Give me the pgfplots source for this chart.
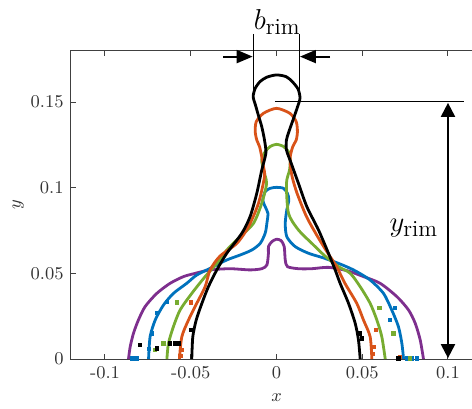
\documentclass[border=0pt]{standalone}
\usepackage{pgfplots}
\pgfplotsset{compat=1.18}
\usetikzlibrary{arrows.meta}
\definecolor{mblue}{rgb}{0,0.447,0.741}
\definecolor{morange}{rgb}{0.85,0.325,0.098}
\definecolor{mgreen}{rgb}{0.466,0.674,0.188}
\definecolor{mpurple}{rgb}{0.494,0.184,0.556}
\definecolor{axgray}{gray}{0.25}
\definecolor{txgray}{gray}{0.2}
\tikzset{
  prof/.style={line width=1.4pt, line join=round, smooth, tension=0.45},
  dots/.style={only marks, mark=square*, mark size=0.8pt},
  dim/.style={line width=0.5pt, draw=black},
}
\begin{document}
\begin{tikzpicture}
\begin{axis}[
  name=ax, scale only axis,
  width=205.8pt, height=154.2pt,
  xmin=-0.12, xmax=0.12, ymin=0, ymax=0.18,
  clip=false,
  axis line style={draw=axgray, line width=0.5pt},
  tick style={draw=axgray, line width=0.5pt},
  tick align=inside, major tick length=2.5pt,
  xtick={-0.1,-0.05,0,0.05,0.1},
  xticklabels={-0.1,-0.05,0,0.05,0.1},
  ytick={0,0.05,0.1,0.15},
  yticklabels={0,0.05,0.1,0.15},
  xtick pos=both, ytick pos=both,
  ticklabel style={font=\fontsize{9}{11}\selectfont, text=txgray},
  xlabel={$x$}, ylabel={$y$},
  label style={font=\fontsize{9}{11}\selectfont, text=txgray},
  xlabel style={yshift=-1pt},
  ylabel style={yshift=-3.5pt},
]
% purple
\addplot[prof, mpurple] coordinates {
(-0.0863,0) (-0.0853,0.0072) (-0.0834,0.0150) (-0.0805,0.0228) (-0.0766,0.0306) (-0.0698,0.0383)
(-0.0620,0.0442) (-0.0542,0.0481) (-0.0474,0.0500) (-0.0387,0.0520) (-0.0270,0.0527) (-0.0154,0.0520)
(-0.0086,0.0527) (-0.0056,0.0549) (-0.0047,0.0617) (-0.0047,0.0656) (-0.0027,0.0685) (0,0.0699)
(0.0027,0.0691) (0.0045,0.0656) (0.0051,0.0578) (0.0064,0.0539) (0.0128,0.0527) (0.0206,0.0527)
(0.0303,0.0535) (0.0410,0.0516) (0.0507,0.0481) (0.0604,0.0442) (0.0702,0.0364) (0.0770,0.0286)
(0.0809,0.0208) (0.0838,0.0111) (0.0857,0)};
% blue
\addplot[prof, mblue] coordinates {
(-0.0746,0) (-0.0737,0.0130) (-0.0707,0.0228) (-0.0659,0.0315) (-0.0601,0.0383) (-0.0523,0.0442)
(-0.0465,0.0490) (-0.0367,0.0539) (-0.0290,0.0578) (-0.0212,0.0607) (-0.0144,0.0636) (-0.0095,0.0675)
(-0.0066,0.0734) (-0.0056,0.0792) (-0.0050,0.0850) (-0.0066,0.0889) (-0.0080,0.0928) (-0.0066,0.0977)
(-0.0037,0.0996) (0,0.1002) (0.0041,0.0996) (0.0064,0.0967) (0.0072,0.0928) (0.0060,0.0870)
(0.0051,0.0792) (0.0060,0.0714) (0.0109,0.0656) (0.0187,0.0617) (0.0274,0.0590) (0.0362,0.0558)
(0.0449,0.0520) (0.0546,0.0461) (0.0624,0.0383) (0.0672,0.0286) (0.0711,0.0189) (0.0731,0.0091)
(0.0741,0)};
% green
\addplot[prof, mgreen] coordinates {
(-0.0639,0) (-0.0630,0.0091) (-0.0601,0.0189) (-0.0562,0.0286) (-0.0494,0.0383) (-0.0416,0.0481)
(-0.0348,0.0558) (-0.0290,0.0636) (-0.0212,0.0714) (-0.0134,0.0792) (-0.0086,0.0909) (-0.0058,0.1025)
(-0.0076,0.1103) (-0.0086,0.1162) (-0.0066,0.1210) (-0.0037,0.1240) (0,0.1253) (0.0041,0.1240)
(0.0070,0.1210) (0.0080,0.1162) (0.0076,0.1103) (0.0058,0.1025) (0.0070,0.0850) (0.0128,0.0753)
(0.0206,0.0675) (0.0284,0.0600) (0.0362,0.0539) (0.0430,0.0500) (0.0488,0.0422) (0.0546,0.0325)
(0.0585,0.0228) (0.0614,0.0130) (0.0634,0)};
% orange
\addplot[prof, morange] coordinates {
(-0.0566,0) (-0.0552,0.0130) (-0.0513,0.0228) (-0.0465,0.0325) (-0.0416,0.0422) (-0.0387,0.0520)
(-0.0330,0.0600) (-0.0231,0.0675) (-0.0163,0.0773) (-0.0105,0.0909) (-0.0070,0.1064) (-0.0076,0.1123)
(-0.0086,0.1181) (-0.0099,0.1240) (-0.0115,0.1278) (-0.0124,0.1327) (-0.0118,0.1385) (-0.0076,0.1434)
(0,0.1463) (0.0078,0.1434) (0.0115,0.1385) (0.0122,0.1327) (0.0115,0.1278) (0.0095,0.1240)
(0.0080,0.1181) (0.0082,0.1123) (0.0092,0.1060) (0.0120,0.0967) (0.0175,0.0831) (0.0240,0.0714)
(0.0300,0.0617) (0.0350,0.0540) (0.0400,0.0440) (0.0468,0.0325) (0.0507,0.0228) (0.0546,0.0130)
(0.0556,0)};
% black
\addplot[prof, black] coordinates {
(-0.0494,0) (-0.0488,0.0130) (-0.0468,0.0228) (-0.0435,0.0325) (-0.0397,0.0422) (-0.0348,0.0520)
(-0.0290,0.0617) (-0.0202,0.0734) (-0.0154,0.0831) (-0.0115,0.0967) (-0.0086,0.1103) (-0.0062,0.1201)
(-0.0070,0.1278) (-0.0086,0.1356) (-0.0105,0.1420) (-0.0122,0.1480) (-0.0136,0.1531) (-0.0124,0.1580)
(-0.0095,0.1620) (-0.0056,0.1645) (0,0.1658) (0.0056,0.1648) (0.0092,0.1619) (0.0126,0.1575)
(0.0137,0.1522) (0.0122,0.1470) (0.0105,0.1420) (0.0086,0.1366) (0.0070,0.1320) (0.0058,0.1278)
(0.0058,0.1220) (0.0086,0.1142) (0.0128,0.1025) (0.0177,0.0889) (0.0245,0.0753) (0.0303,0.0617)
(0.0342,0.0520) (0.0371,0.0442) (0.0420,0.0325) (0.0459,0.0208) (0.0478,0.0111) (0.0488,0)};
% scattered points
\addplot[dots, mblue] coordinates {(-0.0727,0.0150) (-0.0698,0.0267) (-0.0640,0.0335) (-0.0840,0.0004) (-0.0815,0.0004) (-0.0745,0.0060) (0.0663,0.0228) (0.0690,0.0300) (0.0760,0.0004) (0.0790,0.0004) (0.0820,0.0004)};
\addplot[dots, mgreen] coordinates {(-0.0707,0.0053) (-0.0659,0.0091) (-0.0580,0.0330) (0.0682,0.0150) (0.0600,0.0300) (0.0780,0.0004)};
\addplot[dots, morange] coordinates {(-0.0552,0.0053) (-0.0560,0.0020) (-0.0500,0.0330) (0.0566,0.0072) (0.0560,0.0030) (0.0580,0.0170) (0.0720,0.0012)};
\addplot[dots, black] coordinates {(-0.0795,0.0082) (-0.0698,0.0062) (-0.0620,0.0091) (-0.0590,0.0091) (-0.0571,0.0091) (-0.0498,0.0169) (0.0488,0.0150) (0.0500,0.0120) (0.0711,0.0004)};
% b_rim annotation
\draw[dim] (axis cs:-0.0137,0.1897) -- (axis cs:-0.0137,0.1525);
\draw[dim] (axis cs:0.0135,0.1897) -- (axis cs:0.0135,0.1515);
\draw[line width=1pt, -{Triangle[length=8pt,width=6.5pt]}] (axis cs:-0.031,0.1765) -- (axis cs:-0.0139,0.1765);
\draw[line width=1pt, -{Triangle[length=8pt,width=6.5pt]}] (axis cs:0.0313,0.1765) -- (axis cs:0.0137,0.1765);
\node[anchor=base, inner sep=0pt, font=\Large] at (axis cs:0.0005,0.1925) {$b_{\mbox{\fontsize{11.5}{12}\selectfont rim}}$};
% y_rim annotation
\draw[dim] (axis cs:-0.001,0.1502) -- (axis cs:0.1095,0.1502);
\draw[line width=1pt, {Triangle[length=7pt,width=7pt]}-{Triangle[length=7pt,width=7pt]}] (axis cs:0.1,0.1495) -- (axis cs:0.1,0.0005);
\node[anchor=base east, inner sep=0pt, font=\Large] at (axis cs:0.0945,0.0743) {$y_{\mbox{\fontsize{11.5}{12}\selectfont rim}}$};
\end{axis}
\pgfresetboundingbox
\useasboundingbox (ax.south west) ++(-35.35pt,-24.5pt) rectangle ++(236pt,204pt);
\end{tikzpicture}
\end{document}
